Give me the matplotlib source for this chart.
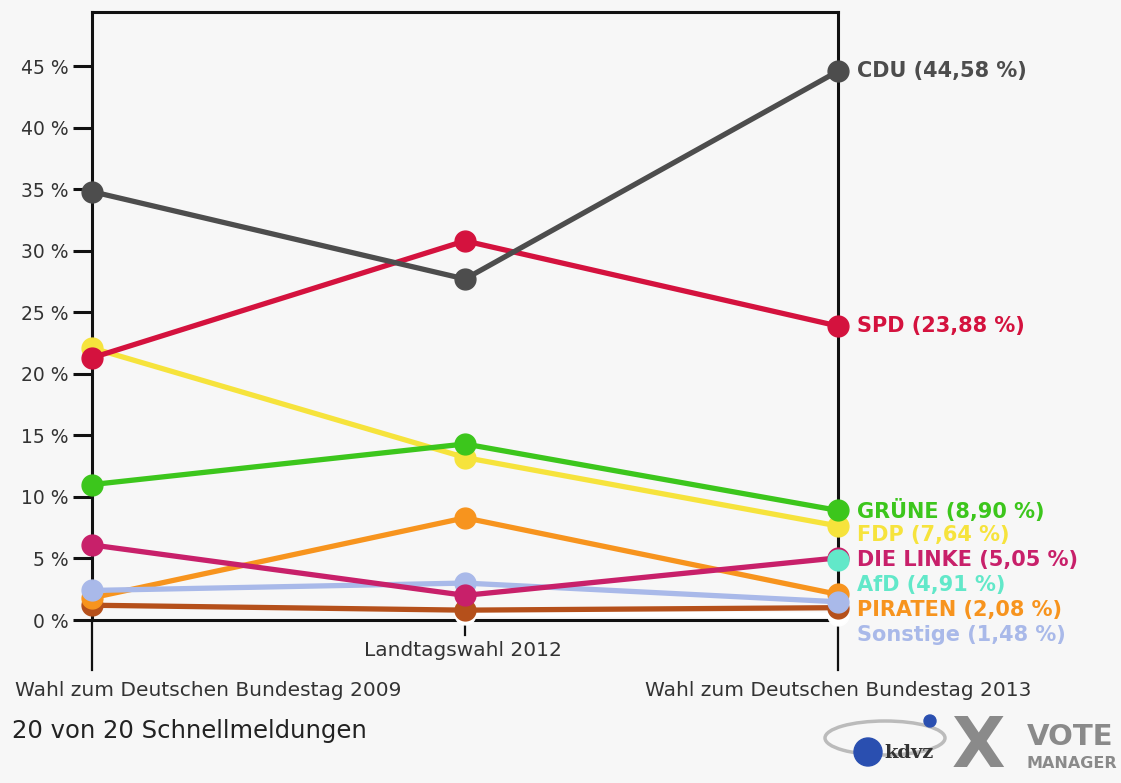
import matplotlib
matplotlib.use("Agg")
import matplotlib.pyplot as plt
from matplotlib.patches import Circle, Ellipse
import numpy as np

elections = ["Wahl zum Deutschen Bundestag 2009", "Landtagswahl 2012", "Wahl zum Deutschen Bundestag 2013"]
parties = ["CDU", "SPD", "GRÜNE", "FDP", "DIE LINKE", "AfD", "PIRATEN", "Sonstige"]
label_names = ["CDU", "SPD", "GRÜNE", "FDP", "DIE LINKE", "AfD", "PIRATEN", "Sonstige"]
cdu = [34.8, 27.7, 44.58]
spd = [21.3, 30.8, 23.88]
gruene = [11.0, 14.3, 8.90]
fdp = [22.1, 13.2, 7.64]
linke = [6.1, 2.0, 5.05]
afd = [None, None, 4.91]
piraten = [1.8, 8.3, 2.08]
sonstige = [2.4, 3.0, 1.48]
other_brown = [1.2, 0.8, 1.0]
other_white = [None, 0.5, 0.4]
yticks = [0, 5, 10, 15, 20, 25, 30, 35, 40, 45]

colors = {
    "CDU": "#4d4d4d", "SPD": "#d4123e", "GRÜNE": "#3cc61c", "FDP": "#f6e33c",
    "DIE LINKE": "#c8206a", "AfD": "#62e8c9", "PIRATEN": "#f7941e", "Sonstige": "#a9b9e9",
}
series = {"CDU": cdu, "SPD": spd, "GRÜNE": gruene, "FDP": fdp, "DIE LINKE": linke,
          "AfD": afd, "PIRATEN": piraten, "Sonstige": sonstige}

bg = "#f7f7f7"
W, H = 1121, 783
fig = plt.figure(figsize=(W / 100, H / 100), dpi=100, facecolor=bg)
ax = fig.add_axes([92 / W, 1 - 620 / H, (838 - 92) / W, (620 - 12) / H], facecolor=bg)
ax.set_xlim(0, 2)
ax.set_ylim(0, (620 - 12) / 12.31)

x = np.arange(len(elections))

def draw(vals, color, z):
    xs = [xi for xi, v in zip(x, vals) if v is not None]
    ys = [v for v in vals if v is not None]
    ax.plot(xs, ys, color=color, lw=3.8, marker="o", ms=15, zorder=z, clip_on=False,
            solid_capstyle="round")

draw(other_white, "#ffffff", 2)
draw(other_brown, "#b5501b", 3)
zs = {"PIRATEN": 4, "Sonstige": 5, "DIE LINKE": 6, "AfD": 7, "FDP": 8, "GRÜNE": 9, "SPD": 10, "CDU": 11}
for p in parties:
    draw(series[p], colors[p], zs[p])

for s in ["left", "right", "top", "bottom"]:
    ax.spines[s].set_linewidth(2.2)
    ax.spines[s].set_color("#111111")
    ax.spines[s].set_zorder(1)

ax.set_yticks(yticks)
ax.set_yticklabels([f"{t} %" for t in yticks], fontsize=13.5, color="#333333")
ax.tick_params(axis="y", direction="out", length=14, width=2.2, color="#111111", pad=3)
ax.set_xticks([])

# category drop lines
ax.plot([0, 0], [0, -4.1], color="#111111", lw=1.6, clip_on=False, zorder=1)
ax.plot([2, 2], [0, -4.1], color="#111111", lw=1.6, clip_on=False, zorder=1)
ax.plot([1, 1], [0, -1.2], color="#111111", lw=1.6, clip_on=False, zorder=1)

txtc = "#333333"
fig.text(463 / W, 1 - 651 / H, elections[1], ha="center", va="center", fontsize=14.5, color=txtc)
fig.text(15 / W, 1 - 690 / H, elections[0], ha="left", va="center", fontsize=14.5, color=txtc)
fig.text(838 / W, 1 - 690 / H, elections[2], ha="center", va="center", fontsize=14.5, color=txtc)
fig.text(12 / W, 1 - 731 / H, "20 von 20 Schnellmeldungen", ha="left", va="center", fontsize=17.5, color="#222222")

# right-hand labels with de-overlap
last = [(p, series[p][-1]) for p in parties]
last.sort(key=lambda t: -t[1])
gap = 25 / 12.31
prev = None
for p, v in last:
    y = v if prev is None else min(v, prev - gap)
    prev = y
    ax.text(2.05, y, f"{label_names[parties.index(p)]} ({v:.2f} %)".replace(".", ","),
            color=colors[p], fontsize=15, fontweight="bold", va="center", ha="left",
            clip_on=False)

# logo
lax = fig.add_axes([820 / W, 0, (W - 820) / W, 80 / H])
lax.set_xlim(820, W)
lax.set_ylim(783, 703)
lax.axis("off")
lax.add_patch(Ellipse((885, 738), 120, 34, fill=False, ec="#bbbbbb", lw=2.5))
lax.add_patch(Circle((868, 752), 14, color="#2a4fb0"))
lax.add_patch(Circle((930, 721), 6, color="#2a4fb0"))
lax.text(884, 753, "kdvz", fontsize=14, fontweight="bold", family="DejaVu Serif", color="#333333", va="center")
lax.text(978, 748, "X", fontsize=50, fontweight="bold", color="#8a8a8a", va="center", ha="center")
lax.text(1070, 737, "VOTE", fontsize=21, fontweight="bold", color="#8a8a8a", va="center", ha="center")
lax.text(1072, 764, "MANAGER", fontsize=11.5, fontweight="bold", color="#8a8a8a", va="center", ha="center")

fig.savefig("out.png", dpi=100, facecolor=bg)
